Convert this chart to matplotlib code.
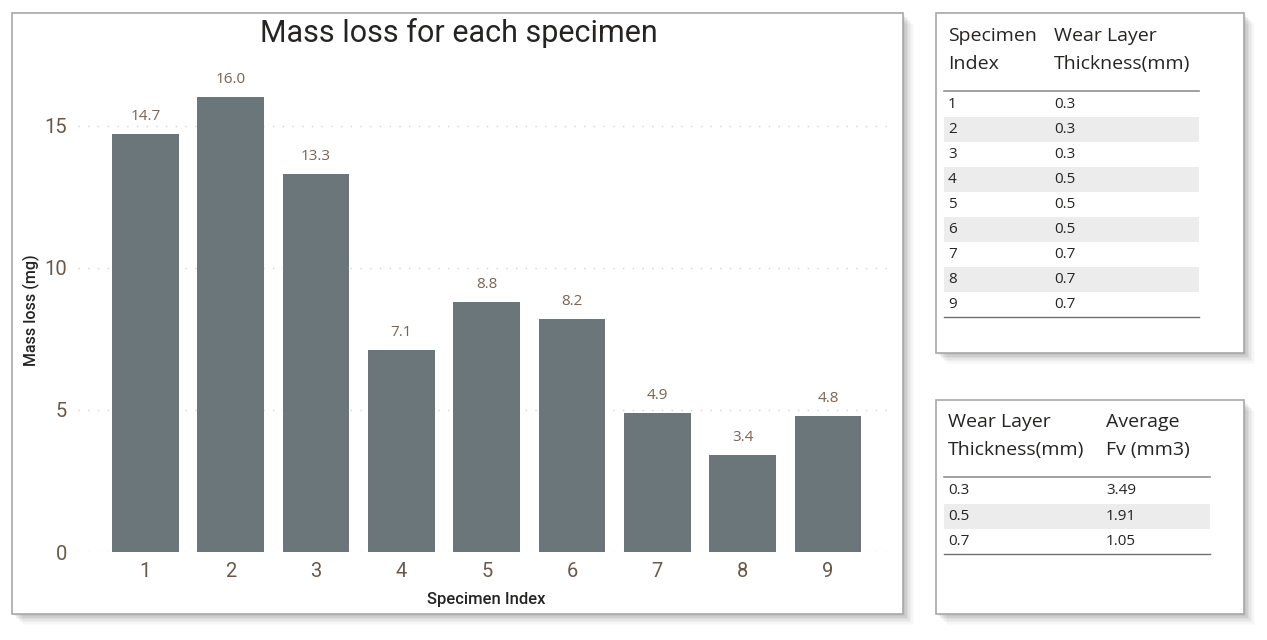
import matplotlib.pyplot as plt
from matplotlib.patches import Rectangle

# Data
specimens = [1, 2, 3, 4, 5, 6, 7, 8, 9]
mass_loss = [14.7, 16.0, 13.3, 7.1, 8.8, 8.2, 4.9, 3.4, 4.8]
thickness = [0.3, 0.3, 0.3, 0.5, 0.5, 0.5, 0.7, 0.7, 0.7]

avg_thickness = [0.3, 0.5, 0.7]
avg_fv = [3.49, 1.91, 1.05]

W, H = 1267, 640

BAR_COLOR = "#6a7679"
TICK_COLOR = "#6b5848"
VALUE_COLOR = "#7b6350"
TEXT_COLOR = "#252423"
BAND_COLOR = "#ececec"


def px(x):
    return x / W


def py(y):
    return 1 - y / H


def panel(fig, x0, y0, x1, y1):
    # soft drop shadow
    for i, a in enumerate([0.05, 0.05, 0.04, 0.035, 0.03, 0.02, 0.015]):
        off = 2 + i * 1.5
        fig.patches.append(Rectangle((px(x0 + off), py(y1 + off)), px(x1 - x0), (y1 - y0) / H,
                                     transform=fig.transFigure, facecolor="black",
                                     edgecolor="none", alpha=a, zorder=0))
    fig.patches.append(Rectangle((px(x0), py(y1)), px(x1 - x0), (y1 - y0) / H,
                                 transform=fig.transFigure, facecolor="white",
                                 edgecolor="#a8a8a8", linewidth=1.2, zorder=1))


fig = plt.figure(figsize=(W / 100, H / 100), dpi=100)
fig.patch.set_facecolor("white")

panel(fig, 12, 13, 903, 614)
panel(fig, 936, 13, 1244, 353)
panel(fig, 936, 400, 1244, 614)

# Bar chart
ax = fig.add_axes([px(78), py(552), px(895 - 78), (552 - 69) / H])
ax.set_zorder(3)
ax.patch.set_alpha(0)
bars = ax.bar(specimens, mass_loss, width=0.78, color=BAR_COLOR, zorder=2)
for b, v in zip(bars, mass_loss):
    ax.text(b.get_x() + b.get_width() / 2, v + 0.35, f"{v:.1f}", ha="center", va="bottom",
            fontsize=11, color=VALUE_COLOR, family="Open Sans")

ax.set_xlim(0.21, 9.785)
ax.set_ylim(0, 17)
ax.set_yticks([0, 5, 10, 15])
ax.set_xticks(specimens)
ax.grid(axis="y", linestyle=(0, (1, 6)), color="#d4d4d4", linewidth=1, zorder=0)
for s in ax.spines.values():
    s.set_visible(False)
ax.tick_params(length=0, labelsize=14.5, labelcolor=TICK_COLOR)
for lab in ax.get_xticklabels() + ax.get_yticklabels():
    lab.set_family("Roboto")
ax.tick_params(axis="x", pad=7)
ax.tick_params(axis="y", pad=8)
ax.set_xlabel("Specimen Index", fontsize=12, color=TEXT_COLOR, family="Roboto",
              fontweight="medium", labelpad=8)
ax.set_ylabel("Mass loss (mg)", fontsize=11.5, color=TEXT_COLOR, family="Roboto",
              fontweight="medium", labelpad=3)
fig.text(px(459), py(33), "Mass loss for each specimen", ha="center", va="center",
         fontsize=22, color=TEXT_COLOR, family="Roboto")


def table(fig, x_left, x_right, col2, head_y, line_y, row0, headers, rows):
    fs_h = 14
    fs_r = 11
    for (h1, h2), x in zip(headers, [x_left + 4, col2]):
        fig.text(px(x), py(head_y), h1, ha="left", va="center", fontsize=fs_h,
                 color=TEXT_COLOR, family="Open Sans")
        fig.text(px(x), py(head_y + 28), h2, ha="left", va="center", fontsize=fs_h,
                 color=TEXT_COLOR, family="Open Sans")
    fig.add_artist(plt.Line2D([px(x_left), px(x_right)], [py(line_y), py(line_y)],
                              color="#909090", linewidth=1.2, transform=fig.transFigure, zorder=3))
    step = 25.1
    for i, (a, b) in enumerate(rows):
        yc = row0 + i * step
        if i % 2 == 1:
            fig.patches.append(Rectangle((px(x_left), py(yc + step / 2)), px(x_right - x_left),
                                         step / H, transform=fig.transFigure,
                                         facecolor=BAND_COLOR, edgecolor="none", zorder=2))
        fig.text(px(x_left + 4), py(yc), a, ha="left", va="center", fontsize=fs_r,
                 color=TEXT_COLOR, family="Open Sans", zorder=4)
        fig.text(px(col2), py(yc), b, ha="left", va="center", fontsize=fs_r,
                 color=TEXT_COLOR, family="Open Sans", zorder=4)
    bottom = row0 + (len(rows) - 0.5) * step
    fig.add_artist(plt.Line2D([px(x_left), px(x_right)], [py(bottom), py(bottom)],
                              color="#707070", linewidth=1.0, transform=fig.transFigure, zorder=3))


table(fig, 944, 1199, 1054, 36, 91, 104,
      [("Specimen", "Index"), ("Wear Layer", "Thickness(mm)")],
      [(str(s), f"{t:.1f}") for s, t in zip(specimens, thickness)])

table(fig, 944, 1210, 1106, 422, 477, 491,
      [("Wear Layer", "Thickness(mm)"), ("Average", "Fv (mm3)")],
      [(f"{t:.1f}", f"{f:.2f}") for t, f in zip(avg_thickness, avg_fv)])

fig.savefig("out.png", dpi=100)
